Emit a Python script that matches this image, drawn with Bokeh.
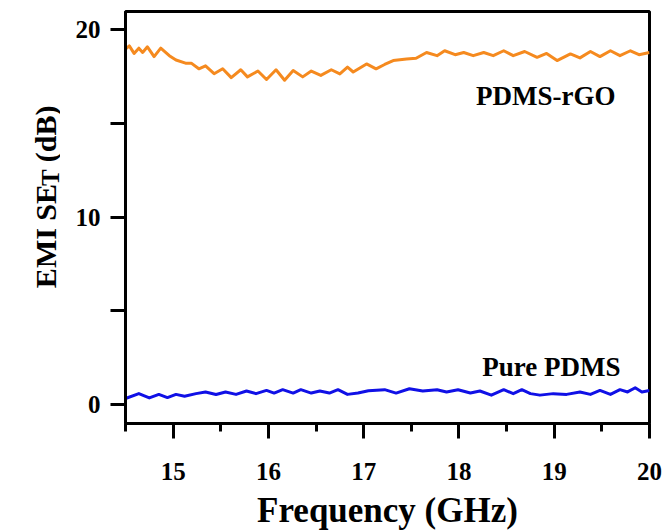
import math
from bokeh.plotting import figure
from bokeh.models import FixedTicker, Label, Range1d
from bokeh.layouts import row
from bokeh.embed import file_html
from bokeh.resources import INLINE

# ---- data ----
rgo_freq = [14.50, 14.54, 14.59, 14.64, 14.68, 14.73, 14.80, 14.87, 14.96, 15.03,
            15.13, 15.19, 15.27, 15.34, 15.43, 15.52, 15.61, 15.71, 15.78, 15.89,
            15.98, 16.08, 16.17, 16.26, 16.36, 16.45, 16.55, 16.66, 16.75, 16.83,
            16.89, 17.03, 17.13, 17.22, 17.31, 17.45, 17.55, 17.66, 17.77, 17.85,
            17.96, 18.05, 18.15, 18.26, 18.36, 18.47, 18.57, 18.69, 18.82, 18.92,
            19.03, 19.17, 19.27, 19.38, 19.48, 19.59, 19.69, 19.80, 19.89, 20.00]
rgo_se = [18.94, 19.11, 18.71, 18.99, 18.76, 19.06, 18.54, 18.99, 18.59, 18.36,
          18.19, 18.19, 17.89, 18.05, 17.63, 17.89, 17.42, 17.84, 17.46, 17.77,
          17.32, 17.84, 17.28, 17.80, 17.46, 17.77, 17.54, 17.84, 17.62, 17.98,
          17.72, 18.15, 17.89, 18.12, 18.33, 18.41, 18.45, 18.76, 18.59, 18.85,
          18.64, 18.76, 18.59, 18.76, 18.59, 18.85, 18.59, 18.81, 18.50, 18.71,
          18.33, 18.68, 18.47, 18.81, 18.54, 18.85, 18.59, 18.85, 18.64, 18.76]

pdms_freq = [14.50, 14.64, 14.75, 14.85, 14.94, 15.03, 15.12, 15.24, 15.34, 15.45,
             15.55, 15.66, 15.77, 15.87, 15.98, 16.06, 16.15, 16.26, 16.34, 16.45,
             16.54, 16.64, 16.73, 16.83, 16.94, 17.05, 17.22, 17.34, 17.48, 17.62,
             17.77, 17.87, 17.99, 18.12, 18.22, 18.34, 18.47, 18.57, 18.66, 18.75,
             18.85, 18.99, 19.13, 19.27, 19.38, 19.48, 19.59, 19.69, 19.77, 19.85,
             19.92, 20.00]
pdms_se = [0.34, 0.60, 0.37, 0.56, 0.39, 0.56, 0.46, 0.60, 0.69, 0.55,
           0.69, 0.56, 0.74, 0.60, 0.77, 0.63, 0.81, 0.63, 0.81, 0.63,
           0.74, 0.63, 0.81, 0.56, 0.63, 0.75, 0.81, 0.63, 0.86, 0.74,
           0.81, 0.69, 0.81, 0.63, 0.74, 0.52, 0.81, 0.60, 0.81, 0.60,
           0.52, 0.60, 0.56, 0.69, 0.56, 0.77, 0.56, 0.81, 0.69, 0.91,
           0.69, 0.77]

x_major = [15, 16, 17, 18, 19, 20]
x_minor = [14.5, 15.5, 16.5, 17.5, 18.5, 19.5]
y_ticks = [0, 5, 10, 15, 20]
y_labels = {0: "0", 5: "", 10: "10", 15: "", 20: "20"}

series_names = ["PDMS-rGO", "Pure PDMS"]
label_pos_x = [18.91, 18.97]
label_pos_y = [16.46, 2.03]

y_title_parts = ["EMI SE", "T", "(dB)"]

FONT = "Liberation Serif"
TOTAL_W, H = 665, 532
LW = 60
W = TOTAL_W - LW
FL, FR, FT, FB = 125 - LW, 649 - LW, 11, 431

p = figure(width=W, height=H, output_backend="svg", toolbar_location=None,
           x_range=Range1d(14.5, 20.0), y_range=Range1d(-0.99, 20.94),
           min_border_left=FL, min_border_right=W - FR,
           min_border_top=FT, min_border_bottom=H - FB)
p.grid.visible = False
p.background_fill_color = "white"
p.border_fill_color = "white"
p.outline_line_color = "black"
p.outline_line_width = 3

p.line(rgo_freq, rgo_se, line_color="#F58A1F", line_width=3, line_join="round")
p.line(pdms_freq, pdms_se, line_color="#1010E6", line_width=3, line_join="round")

xa = p.xaxis[0]
xa.ticker = FixedTicker(ticks=x_major, minor_ticks=x_minor)
xa.axis_label = "Frequency (GHz)"
ya = p.yaxis[0]
ya.ticker = FixedTicker(ticks=y_ticks, minor_ticks=[])
ya.major_label_overrides = y_labels

for ax in (xa, ya):
    ax.axis_line_width = 3
    ax.axis_line_color = "black"
    ax.major_tick_line_width = 3
    ax.minor_tick_line_width = 3
    ax.major_tick_line_color = "black"
    ax.minor_tick_line_color = "black"
    ax.major_tick_in = 0
    ax.major_tick_out = 15
    ax.minor_tick_in = 0
    ax.minor_tick_out = 8
    ax.major_label_text_font = FONT
    ax.major_label_text_font_style = "bold"
    ax.major_label_text_font_size = "25px"
    ax.major_label_text_color = "black"
    ax.axis_label_text_font = FONT
    ax.axis_label_text_font_style = "bold"
    ax.axis_label_text_font_size = "35px"
    ax.axis_label_text_color = "black"

xa.major_label_standoff = 24
xa.axis_label_standoff = 8
ya.major_label_standoff = 10

for name, lx, ly in zip(series_names, label_pos_x, label_pos_y):
    p.add_layout(Label(x=lx, y=ly, text=name, text_font=FONT, text_font_style="bold",
                       text_font_size="27px", text_color="black",
                       text_align="center", text_baseline="alphabetic"))

# ---- strip on the left with the y-axis title (with subscript T) ----
# In a row, the strip's frame is aligned with the main frame (page y FT..FB),
# so its y range is set so that data y = H - page_y.
lf = figure(width=LW, height=H, output_backend="svg", toolbar_location=None,
            title=None, x_range=Range1d(0, LW), y_range=Range1d(H - FB, H - FT),
            x_axis_type=None, y_axis_type=None,
            min_border_left=0, min_border_right=0, min_border_top=0, min_border_bottom=0)
lf.grid.visible = False
lf.outline_line_color = None
lf.background_fill_color = "white"
lf.border_fill_color = "white"

F1, F2 = 30, 25
base = 293
w_emi = 3.473 * F1
w_t = 0.667 * F2
w_sp = 0.25 * F1
starts_page = [base, base - w_emi, base - w_emi - w_t - w_sp]
xs = [45, 50, 45]
sizes = [f"{F1}px", f"{F2}px", f"{F1}px"]
for t, bx, sy, fs in zip(y_title_parts, xs, starts_page, sizes):
    lf.add_layout(Label(x=bx, y=H - sy, text=t, angle=math.pi / 2,
                        text_font=FONT, text_font_style="bold", text_font_size=fs,
                        text_color="black", text_align="left",
                        text_baseline="alphabetic"))

layout = row(lf, p)
open("out.html", "w").write(file_html(layout, INLINE))
